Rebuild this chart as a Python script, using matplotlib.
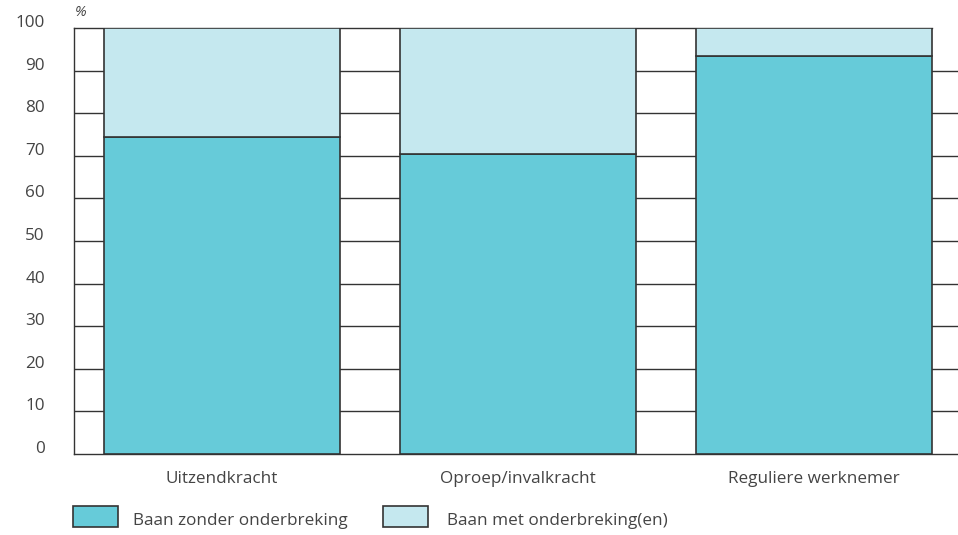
import numpy as np
import matplotlib.pyplot as plt
import matplotlib.transforms as mtransforms
from matplotlib.patches import Rectangle

categories = ["Uitzendkracht", "Oproep/invalkracht", "Reguliere werknemer"]
zonder = [74.5, 70.5, 93.5]
met = [25.5, 29.5, 6.5]
series_names = ["Baan zonder onderbreking", "Baan met onderbreking(en)"]
yticks = list(range(0, 101, 10))

dark = "#66cbd9"
light = "#c5e8ef"
edge = "#333333"
txt = "#444444"

plt.rcParams["font.family"] = ["Open Sans", "DejaVu Sans"]

W, H = 958, 535
fig = plt.figure(figsize=(W / 100, H / 100), dpi=100)
ax = fig.add_axes([74 / W, 1 - 454 / H, (W - 74) / W, (454 - 28) / H])

x = np.arange(len(categories))
width = 236 / 296
ax.bar(x, zonder, width, color=dark, edgecolor=edge, linewidth=1.2, zorder=3)
ax.bar(x, met, width, bottom=zonder, color=light, edgecolor=edge, linewidth=1.2, zorder=3)

ax.set_xlim(-0.5, 2 + 144 / 296)
ax.set_ylim(0, 100)

for v in yticks[1:-1]:
    ax.axhline(v, color=edge, linewidth=1.0, zorder=1)
# top line stops at the right edge of the last bar
ax.plot([-0.5, x[-1] + width / 2], [100, 100], color=edge, linewidth=1.0, zorder=1, clip_on=False)

for s in ["top", "right"]:
    ax.spines[s].set_visible(False)
for s in ["left", "bottom"]:
    ax.spines[s].set_color(edge)
    ax.spines[s].set_linewidth(1.0)

fs = 12.3
ax.set_yticks(yticks)
ax.set_yticklabels([str(v) for v in yticks], fontsize=fs, color=txt)
ax.tick_params(axis="y", length=0, pad=21)
# labels sit a little above their gridlines
shift = mtransforms.ScaledTranslation(0, 7 / 100, fig.dpi_scale_trans)
for lab in ax.get_yticklabels():
    lab.set_transform(lab.get_transform() + shift)
ax.set_xticks(x)
ax.set_xticklabels(categories, fontsize=fs, color=txt)
ax.tick_params(axis="x", length=0, pad=12)

fig.text(75 / W, 1 - 12 / H, "%", fontsize=10.5, style="italic", color=txt, va="center")

# legend
legend_items = [(73, 133, dark), (383, 447, light)]
for (lx, tx, col), name in zip(legend_items, series_names):
    fig.patches.append(Rectangle((lx / W, 1 - 527 / H), 45 / W, 21 / H,
                                 transform=fig.transFigure, facecolor=col,
                                 edgecolor=edge, linewidth=1.2))
    fig.text(tx / W, 1 - 521 / H, name, fontsize=fs, color=txt, va="center")

fig.savefig("out.png", dpi=100)
